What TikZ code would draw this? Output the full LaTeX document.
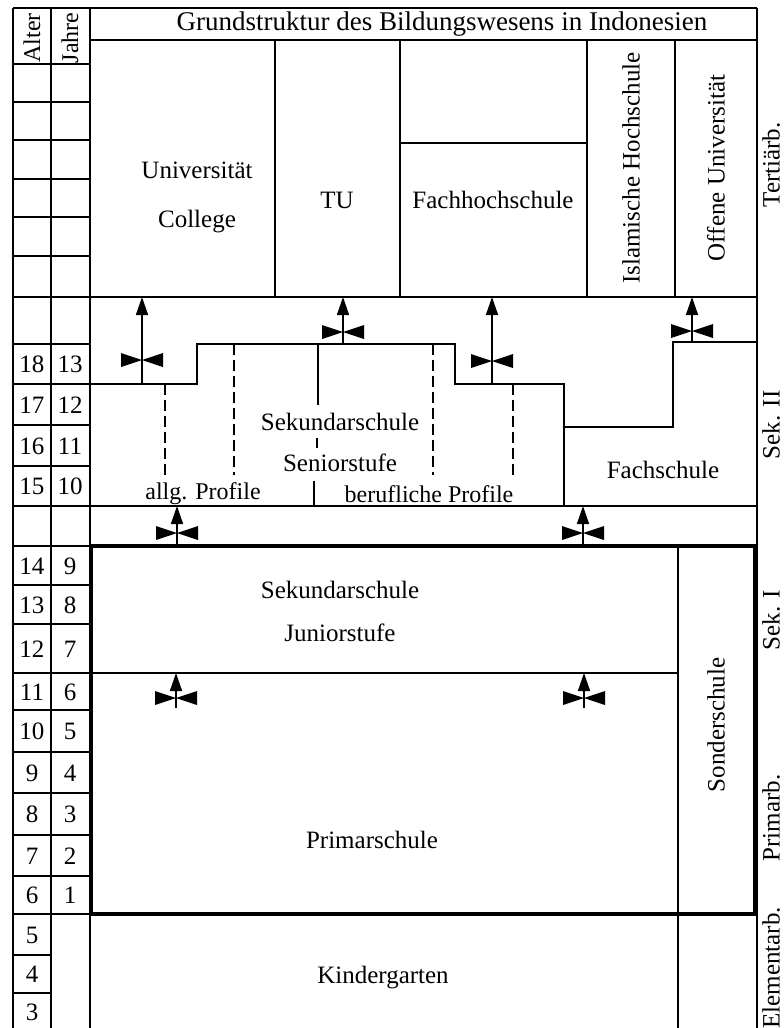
\documentclass[tikz,border=0pt]{standalone}
\usepackage{fontspec}
\setmainfont{Liberation Serif}
\usetikzlibrary{arrows.meta}
\begin{document}
\begin{tikzpicture}[x=1pt,y=-1pt,
  font=\fontsize{25}{28}\selectfont,
  gridline/.style={line width=1.5pt},
  boldframe/.style={line width=4.5pt},
  dashline/.style={line width=1.5pt, dash pattern=on 11pt off 5pt},
  lbl/.style={inner sep=0pt, anchor=center},
  vlbl/.style={lbl, rotate=90},
  small/.style={font=\fontsize{24}{27}\selectfont},
  shaft/.style={line width=1.5pt, -{Triangle[length=18pt,width=12pt]}},
  bowtie/.pic={\fill (-21,-7)--(0,0)--(-21,7)--cycle; \fill (21,-7)--(0,0)--(21,7)--cycle;}
]
\useasboundingbox (0,0) rectangle (784,1028);
\fill[white] (0,0) rectangle (784,1028);

% ---------- left grid ----------
\foreach \y in {8,64,102,140,179,217,256,297,344,384,425,466,506,546,585,624,673,710,752,793,835,876,914}
  \draw[gridline] (13,\y) -- (90,\y);
\foreach \y in {955,993}
  \draw[gridline] (13,\y) -- (51,\y);
\draw[gridline] (13,8) -- (13,1030);
\draw[gridline] (51,8) -- (51,1030);
\draw[gridline] (90,8) -- (90,1030);

\node[vlbl, small] (alter) at (32,38) {Alter};
\node[vlbl, small] (jahre) at (70,38) {Jahre};

\foreach \a/\j/\y in {18/13/364,17/12/405,16/11/446,15/10/486,14/9/566,13/8/605,12/7/649,11/6/692,10/5/731,9/4/773,8/3/814,7/2/856,6/1/895}{
  \node[lbl] (age\a) at (32,\y) {\a};
  \node[lbl] (yr\j) at (70,\y) {\j};
}
\node[lbl] (age5) at (32,935) {5};
\node[lbl] (age4) at (32,974) {4};
\node[lbl] (age3) at (32,1012) {3};

% ---------- main frame ----------
\draw[gridline] (90,8) -- (757,8);
\draw[gridline] (757,8) -- (757,1030);
\draw[gridline] (90,40) -- (757,40);
\node[lbl, font=\fontsize{27}{30}\selectfont] (title) at (442,24) {Grundstruktur des Bildungswesens in Indonesien};

% tertiary
\foreach \x in {275,400,587,675}
  \draw[gridline] (\x,40) -- (\x,297);
\draw[gridline] (400,143) -- (587,143);
\draw[gridline] (90,297) -- (757,297);
\node[lbl] (uni) at (197,170) {Universität};
\node[lbl] (college) at (197,222) {College};
\node[lbl] (tu) at (337,200) {TU};
\node[lbl] (fhs) at (493,200) {Fachhochschule};
\node[vlbl] (islam) at (631,168) {Islamische Hochschule};
\node[vlbl] (offene) at (716,168) {Offene Universität};
\node[vlbl] (tert) at (771,165) {Tertiärb.};

% Sek II
\draw[gridline] (90,384) -- (197,384) -- (197,344) -- (455,344) -- (455,384) -- (564,384) -- (564,427) -- (673,427) -- (673,342) -- (757,342);
\draw[gridline] (564,427) -- (564,506);
\draw[gridline] (90,506) -- (757,506);
\draw[dashline] (165,384) -- (165,475);
\draw[dashline] (234,344) -- (234,475);
\draw[dashline] (433,344) -- (433,475);
\draw[dashline] (513,384) -- (513,475);
\draw[gridline] (318,344) -- (318,405);
\draw[gridline] (317,438) -- (317,448);
\draw[gridline] (314,481) -- (314,506);
\node[lbl] (sek2a) at (340,422) {Sekundarschule};
\node[lbl] (sek2b) at (340,463) {Seniorstufe};
\node[lbl, small] (allg) at (203,494) {allg. Profile};
\node[lbl, small] (beruf) at (429,494) {berufliche Profile};
\node[lbl] (fachs) at (663,470) {Fachschule};
\node[vlbl] (sekII) at (771,425) {Sek. II};

% Sek I / Primar
\draw[boldframe] (91,546) rectangle (755,914);
\draw[gridline] (678,546) -- (678,1030);
\draw[gridline] (91,673) -- (678,673);
\node[lbl] (sek1a) at (340,590) {Sekundarschule};
\node[lbl] (sek1b) at (340,633) {Juniorstufe};
\node[lbl] (prim) at (372,840) {Primarschule};
\node[vlbl] (sonder) at (716,725) {Sonderschule};
\node[lbl] (kinder) at (383,978) {Kindergarten};
\node[vlbl] (sekI) at (771,620) {Sek. I};
\node[vlbl] (primb) at (771,818) {Primarb.};
\node[vlbl] (elem) at (771,968) {Elementarb.};

% ---------- arrows ----------
\coordinate (a1s) at (142,384); \coordinate (a1e) at (142,297);
\coordinate (a2s) at (343,344); \coordinate (a2e) at (343,297);
\coordinate (a3s) at (492,384); \coordinate (a3e) at (492,297);
\coordinate (a4s) at (692,342); \coordinate (a4e) at (692,297);
\coordinate (b1s) at (177,546); \coordinate (b1e) at (177,506);
\coordinate (b2s) at (583,546); \coordinate (b2e) at (583,506);
\coordinate (c1s) at (176,708); \coordinate (c1e) at (176,673);
\coordinate (c2s) at (584,708); \coordinate (c2e) at (584,673);
\foreach \n in {a1,a2,a3,a4,b1,b2,c1,c2}
  \draw[shaft] (\n s) -- (\n e);
\pic at (142,360) {bowtie};
\pic at (343,332) {bowtie};
\pic at (492,361) {bowtie};
\pic at (692,331) {bowtie};
\pic at (177,533) {bowtie};
\pic at (583,533) {bowtie};
\pic at (176,698) {bowtie};
\pic at (584,698) {bowtie};
\end{tikzpicture}
\end{document}
